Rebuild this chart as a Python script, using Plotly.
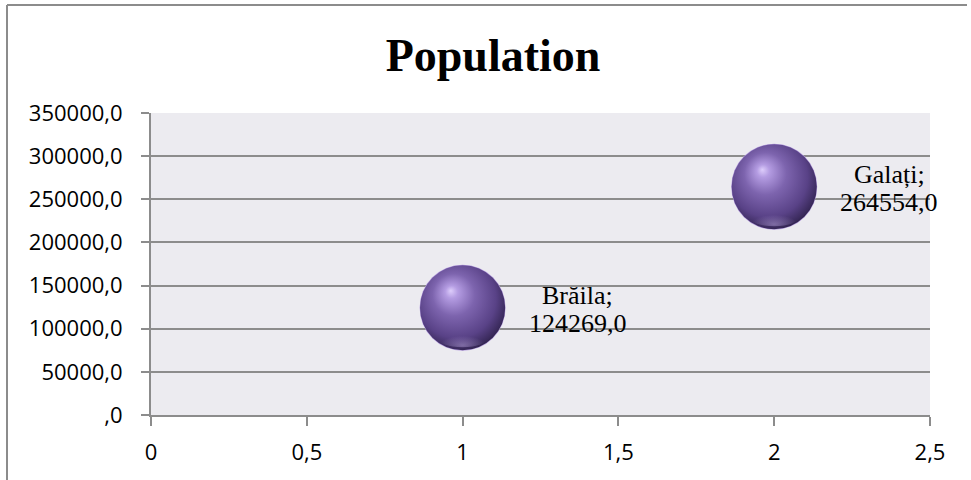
import base64
import plotly.graph_objects as go

# Data
cities = ["Brăila", "Galați"]
x_vals = [1, 2]
population = [124269.0, 264554.0]

y_tickvals = [0, 50000, 100000, 150000, 200000, 250000, 300000, 350000]
y_ticktext = [",0", "50000,0", "100000,0", "150000,0", "200000,0",
              "250000,0", "300000,0", "350000,0"]
x_tickvals = [0, 0.5, 1, 1.5, 2, 2.5]
x_ticktext = ["0", "0,5", "1", "1,5", "2", "2,5"]

W, H = 971, 480
M_L, M_R, M_T, M_B = 151, 41, 113, 65
X_RANGE = [0, 2.5]
Y_RANGE = [0, 350000]
BUBBLE_PX = 86

plot_w = W - M_L - M_R
plot_h = H - M_T - M_B
units_per_px_x = (X_RANGE[1] - X_RANGE[0]) / plot_w
units_per_px_y = (Y_RANGE[1] - Y_RANGE[0]) / plot_h


def fmt(v):
    return f"{v:.1f}".replace(".", ",")


# Glossy sphere drawn as an SVG overlay for each bubble
sphere_svg = """<svg xmlns='http://www.w3.org/2000/svg' width='200' height='200' viewBox='0 0 100 100'>
<defs>
<radialGradient id='body' cx='0.45' cy='0.42' r='0.62' fx='0.36' fy='0.3'>
<stop offset='0' stop-color='#ddcdfb'/>
<stop offset='0.12' stop-color='#b49ce2'/>
<stop offset='0.4' stop-color='#7d64ae'/>
<stop offset='0.75' stop-color='#594287'/>
<stop offset='0.93' stop-color='#3a2a5c'/>
<stop offset='1' stop-color='#241a3a'/>
</radialGradient>
<radialGradient id='rim' cx='0.5' cy='0.9' r='0.45'>
<stop offset='0' stop-color='#b9a5dd' stop-opacity='0.5'/>
<stop offset='1' stop-color='#b9a5dd' stop-opacity='0'/>
</radialGradient>
</defs>
<circle cx='50' cy='50' r='49.5' fill='url(#body)'/>
<ellipse cx='50' cy='84' rx='30' ry='12' fill='url(#rim)'/>
</svg>"""
sphere_uri = "data:image/svg+xml;base64," + base64.b64encode(sphere_svg.encode()).decode()

fig = go.Figure()

fig.add_trace(go.Scatter(
    x=x_vals,
    y=population,
    mode="markers",
    marker=dict(
        size=BUBBLE_PX,
        color="#b59ddf",
        gradient=dict(type="radial", color="#3a2a5c"),
        line=dict(width=0),
    ),
    text=cities,
    hoverinfo="text+y",
    showlegend=False,
))

label_font = dict(family="Liberation Serif", size=26, color="#000000")
images = []
annotations = []
for name, xv, yv in zip(cities, x_vals, population):
    images.append(dict(
        source=sphere_uri,
        xref="x", yref="y",
        x=xv, y=yv,
        sizex=BUBBLE_PX * units_per_px_x,
        sizey=BUBBLE_PX * units_per_px_y,
        xanchor="center", yanchor="middle",
        sizing="stretch",
        layer="above",
    ))
    # Two-line data label ("name;" over value) to the right of the bubble
    for line_text, dy in ((f"{name};", 12), (fmt(yv), -16)):
        annotations.append(dict(
            x=xv, y=yv, xref="x", yref="y",
            text=line_text,
            showarrow=False,
            xanchor="center", yanchor="middle",
            xshift=115, yshift=dy,
            font=label_font,
        ))

axis_gray = "#8c8c8c"

# Frame lines along the top and left edges
frame = [
    dict(type="line", xref="paper", yref="paper",
         x0=(7 - M_L) / plot_w, x1=(967 - M_L) / plot_w,
         y0=(H - M_B - 5) / plot_h, y1=(H - M_B - 5) / plot_h,
         line=dict(color=axis_gray, width=2)),
    dict(type="line", xref="paper", yref="paper",
         x0=(7 - M_L) / plot_w, x1=(7 - M_L) / plot_w,
         y0=(H - M_B - 5) / plot_h, y1=-M_B / plot_h - 0.01,
         line=dict(color=axis_gray, width=2)),
]

fig.update_layout(
    width=W, height=H,
    margin=dict(l=M_L, r=M_R, t=M_T, b=M_B, pad=0),
    paper_bgcolor="#ffffff",
    plot_bgcolor="#ecebf0",
    title=dict(
        text="<b>Population</b>",
        x=493 / W, xref="container", xanchor="center",
        y=1 - 55 / H, yref="container", yanchor="middle",
        font=dict(family="Liberation Serif", size=46, color="#000000"),
    ),
    xaxis=dict(
        range=X_RANGE,
        tickvals=x_tickvals, ticktext=x_ticktext,
        showgrid=False, zeroline=False,
        showline=True, linecolor=axis_gray, linewidth=2,
        ticks="outside", ticklen=9, tickwidth=2, tickcolor=axis_gray,
        ticklabelstandoff=8,
        tickfont=dict(family="Open Sans", size=22, color="#000000"),
    ),
    yaxis=dict(
        range=Y_RANGE,
        tickvals=y_tickvals, ticktext=y_ticktext,
        showgrid=True, gridcolor=axis_gray, gridwidth=2,
        zeroline=False,
        showline=True, linecolor=axis_gray, linewidth=2,
        ticks="outside", ticklen=8, tickwidth=2, tickcolor=axis_gray,
        ticklabelstandoff=14,
        tickfont=dict(family="Open Sans", size=22, color="#000000"),
    ),
    images=images,
    annotations=annotations,
    shapes=frame,
)

fig.write_html("out.html")
